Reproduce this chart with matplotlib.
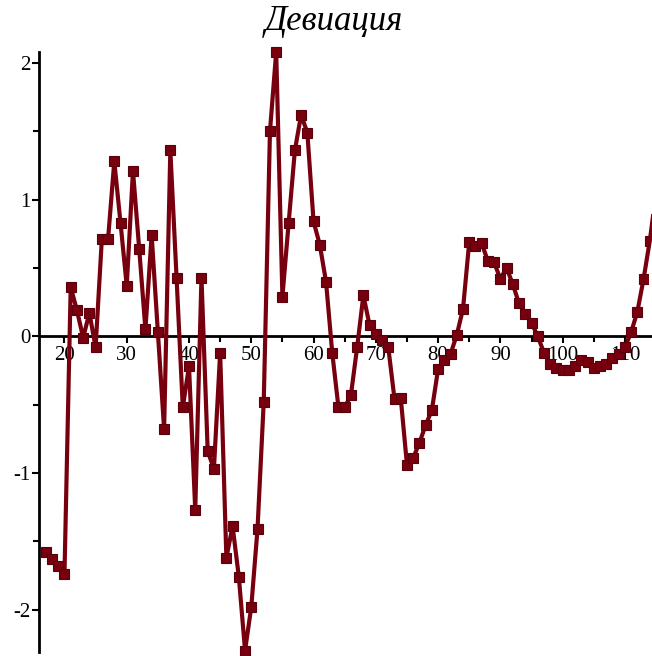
import matplotlib
matplotlib.use("Agg")
import matplotlib.pyplot as plt
from matplotlib.ticker import MultipleLocator
from matplotlib.transforms import Bbox, TransformedBbox

plt.rcParams["font.family"] = ["Liberation Serif", "DejaVu Serif"]
plt.rcParams["axes.unicode_minus"] = False

# x = 17 .. 115
x_start = 17
deviation = [
    -1.58, -1.63, -1.68, -1.74, 0.36, 0.19, -0.01, 0.17, -0.08, 0.71,   # 17-26
    0.71, 1.28, 0.83, 0.37, 1.21, 0.64, 0.05, 0.74, 0.03, -0.68,       # 27-36
    1.36, 0.43, -0.52, -0.22, -1.27, 0.43, -0.84, -0.97, -0.12, -1.62,  # 37-46
    -1.39, -1.76, -2.30, -1.98, -1.41, -0.48, 1.50, 2.08, 0.29, 0.83,   # 47-56
    1.36, 1.62, 1.49, 0.84, 0.67, 0.40, -0.12, -0.52, -0.52, -0.43,     # 57-66
    -0.08, 0.30, 0.08, 0.02, -0.03, -0.08, -0.46, -0.45, -0.94, -0.89,  # 67-76
    -0.78, -0.65, -0.54, -0.24, -0.17, -0.13, 0.01, 0.20, 0.69, 0.66,   # 77-86
    0.68, 0.55, 0.54, 0.42, 0.50, 0.38, 0.24, 0.16, 0.10, 0.00,         # 87-96
    -0.12, -0.20, -0.23, -0.25, -0.25, -0.22, -0.17, -0.19, -0.23, -0.22,  # 97-106
    -0.20, -0.16, -0.13, -0.08, 0.03, 0.18, 0.42, 0.70, 1.05,           # 107-115
]
xs = list(range(x_start, x_start + len(deviation)))

title = "Девиация"
line_color = "#78000E"

fig = plt.figure(figsize=(6.52, 6.56), dpi=100)
ax = fig.add_axes([38.5 / 652, 4 / 656, 1 - 38.5 / 652, 600 / 656])

line, = ax.plot(xs, deviation, "-", color=line_color, linewidth=3, zorder=3)
marks, = ax.plot(xs, deviation, "s", color=line_color, markersize=7,
                 markeredgewidth=0.8, markeredgecolor="#5a000a", zorder=4)
# marks may spill over top/bottom/left, but are cut at the right side
line.set_clip_box(TransformedBbox(Bbox([[-0.1, -0.1], [1.0, 1.1]]), ax.transAxes))
marks.set_clip_box(TransformedBbox(Bbox([[-0.1, -0.1], [0.994, 1.1]]), ax.transAxes))

ax.set_xlim(15.83, 114.35)
ax.set_ylim(-2.31, 2.08)

for side in ("top", "right"):
    ax.spines[side].set_visible(False)
ax.spines["bottom"].set_position(("data", 0))
ax.spines["bottom"].set_linewidth(2)
ax.spines["left"].set_linewidth(2)
ax.spines["bottom"].set_zorder(2)

ax.xaxis.set_major_locator(MultipleLocator(10))
ax.xaxis.set_minor_locator(MultipleLocator(5))
ax.yaxis.set_major_locator(MultipleLocator(1))
ax.yaxis.set_minor_locator(MultipleLocator(0.5))

ax.tick_params(axis="x", which="both", direction="out", width=1.5, labelsize=15, pad=2)
ax.tick_params(axis="x", which="major", length=5)
ax.tick_params(axis="x", which="minor", length=4)
ax.tick_params(axis="y", which="both", direction="out", width=1.5, labelsize=15, pad=1)
ax.tick_params(axis="y", which="major", length=5)
ax.tick_params(axis="y", which="minor", length=4)

ax.set_yticks([-2, -1, 0, 1, 2])
ax.set_yticklabels(["-2", "-1", "0", "1", "2"])
ax.set_xticks(list(range(20, 111, 10)))

fig.text(334 / 652, 1 - 21 / 656, title, ha="center", va="center",
         fontsize=25, style="italic")

fig.savefig("out.png", dpi=100)
